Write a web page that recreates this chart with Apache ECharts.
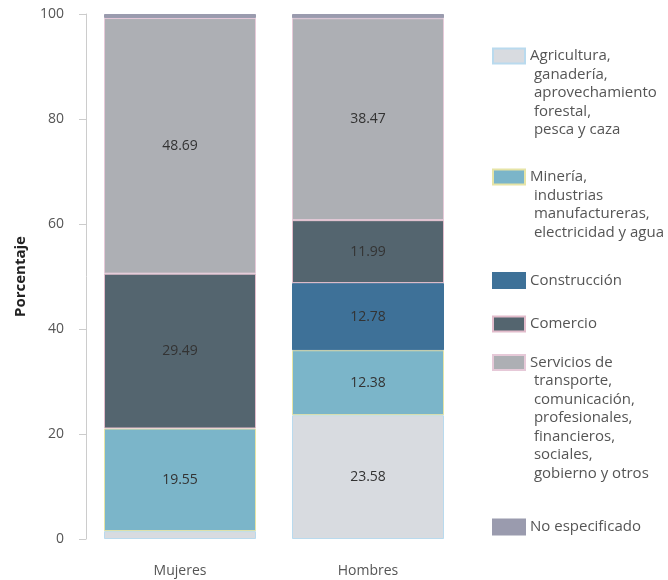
<!DOCTYPE html>
<html>
<head>
<meta charset="utf-8">
<script src="https://cdn.jsdelivr.net/npm/echarts@6/dist/echarts.min.js"></script>
<style>html,body{margin:0;padding:0;background:#fff}#c{width:668px;height:580px}</style>
</head>
<body>
<div id="c"></div>
<script>
var categories = ['Mujeres', 'Hombres'];
var seriesNames = [
  'Agricultura, ganadería, aprovechamiento forestal, pesca y caza',
  'Minería, industrias manufactureras, electricidad y agua',
  'Construcción',
  'Comercio',
  'Servicios de transporte, comunicación, profesionales, financieros, sociales, gobierno y otros',
  'No especificado'
];
var legendLines = [
  ['Agricultura,', ' ganadería,', ' aprovechamiento', ' forestal,', ' pesca y caza'],
  ['Minería,', ' industrias', ' manufactureras,', ' electricidad y agua'],
  ['Construcción'],
  ['Comercio'],
  ['Servicios de', ' transporte,', ' comunicación,', ' profesionales,', ' financieros,', ' sociales,', ' gobierno y otros'],
  ['No especificado']
];
var agricultura = [1.5, 23.58];
var mineria = [19.55, 12.38];
var construccion = [0, 12.78];
var comercio = [29.49, 11.99];
var servicios = [48.69, 38.47];
var noEspecificado = [0.77, 0.8];
var yTicks = [0, 20, 40, 60, 80, 100];

var values = [agricultura, mineria, construccion, comercio, servicios, noEspecificado];
var fills = ['#d8dbe0', '#7bb5c9', '#3e7198', '#54656f', '#adafb4', '#9a9bae'];
var borders = ['#b9daee', '#e6e4a6', '#3e7198', '#e2bccb', '#e6c9d8', '#9a9bae'];
var iconCenters = [56, 177, 280.5, 324, 362.5, 527];
var LH = 18.5;

var series = values.map(function (arr, i) {
  return {
    name: seriesNames[i],
    type: 'bar',
    stack: 'total',
    barWidth: 152,
    data: arr.map(function (v) { return v === 0 ? '-' : v; }),
    itemStyle: { color: fills[i], borderColor: borders[i], borderWidth: 1 },
    label: {
      show: true,
      position: 'inside',
      color: '#333',
      fontSize: 14,
      fontFamily: 'Open Sans',
      formatter: function (p) { return p.value >= 5 ? Number(p.value).toFixed(2) : ''; }
    }
  };
});

var legends = legendLines.map(function (lines, i) {
  var n = lines.length;
  var h = Math.max((2 * n - 1) * LH, 15);
  var pad = '';
  for (var k = 0; k < n - 1; k++) pad += '\n';
  var txt = pad + lines.join('\n');
  return {
    data: [seriesNames[i]],
    orient: 'vertical',
    left: 492,
    top: iconCenters[i] - h / 2,
    padding: 0,
    itemWidth: 32,
    itemHeight: 15,
    icon: 'rect',
    selectedMode: false,
    formatter: function () { return txt; },
    textStyle: { fontSize: 15, lineHeight: LH, color: '#555', fontFamily: 'Open Sans' }
  };
});

var chart = echarts.init(document.getElementById('c'));
chart.setOption({
  animation: false,
  grid: { left: 86, right: 206, top: 14, bottom: 41 },
  legend: legends,
  xAxis: {
    type: 'category',
    data: categories,
    axisLine: { show: false },
    axisTick: { show: false },
    axisLabel: { margin: 25, fontSize: 14, color: '#555', fontFamily: 'Open Sans' }
  },
  yAxis: {
    type: 'value',
    min: yTicks[0],
    max: yTicks[yTicks.length - 1],
    interval: 20,
    name: 'Porcentaje',
    nameLocation: 'middle',
    nameGap: 58,
    nameTextStyle: { fontSize: 15, fontWeight: 'bold', color: '#222', fontFamily: 'Open Sans' },
    axisLine: { show: true, lineStyle: { color: '#ccc', width: 1 } },
    axisTick: { show: true, length: 7, lineStyle: { color: '#ccc' } },
    splitLine: { show: false },
    axisLabel: { margin: 22, fontSize: 14, color: '#555', fontFamily: 'Open Sans' }
  },
  series: series
});
</script>
</body>
</html>
